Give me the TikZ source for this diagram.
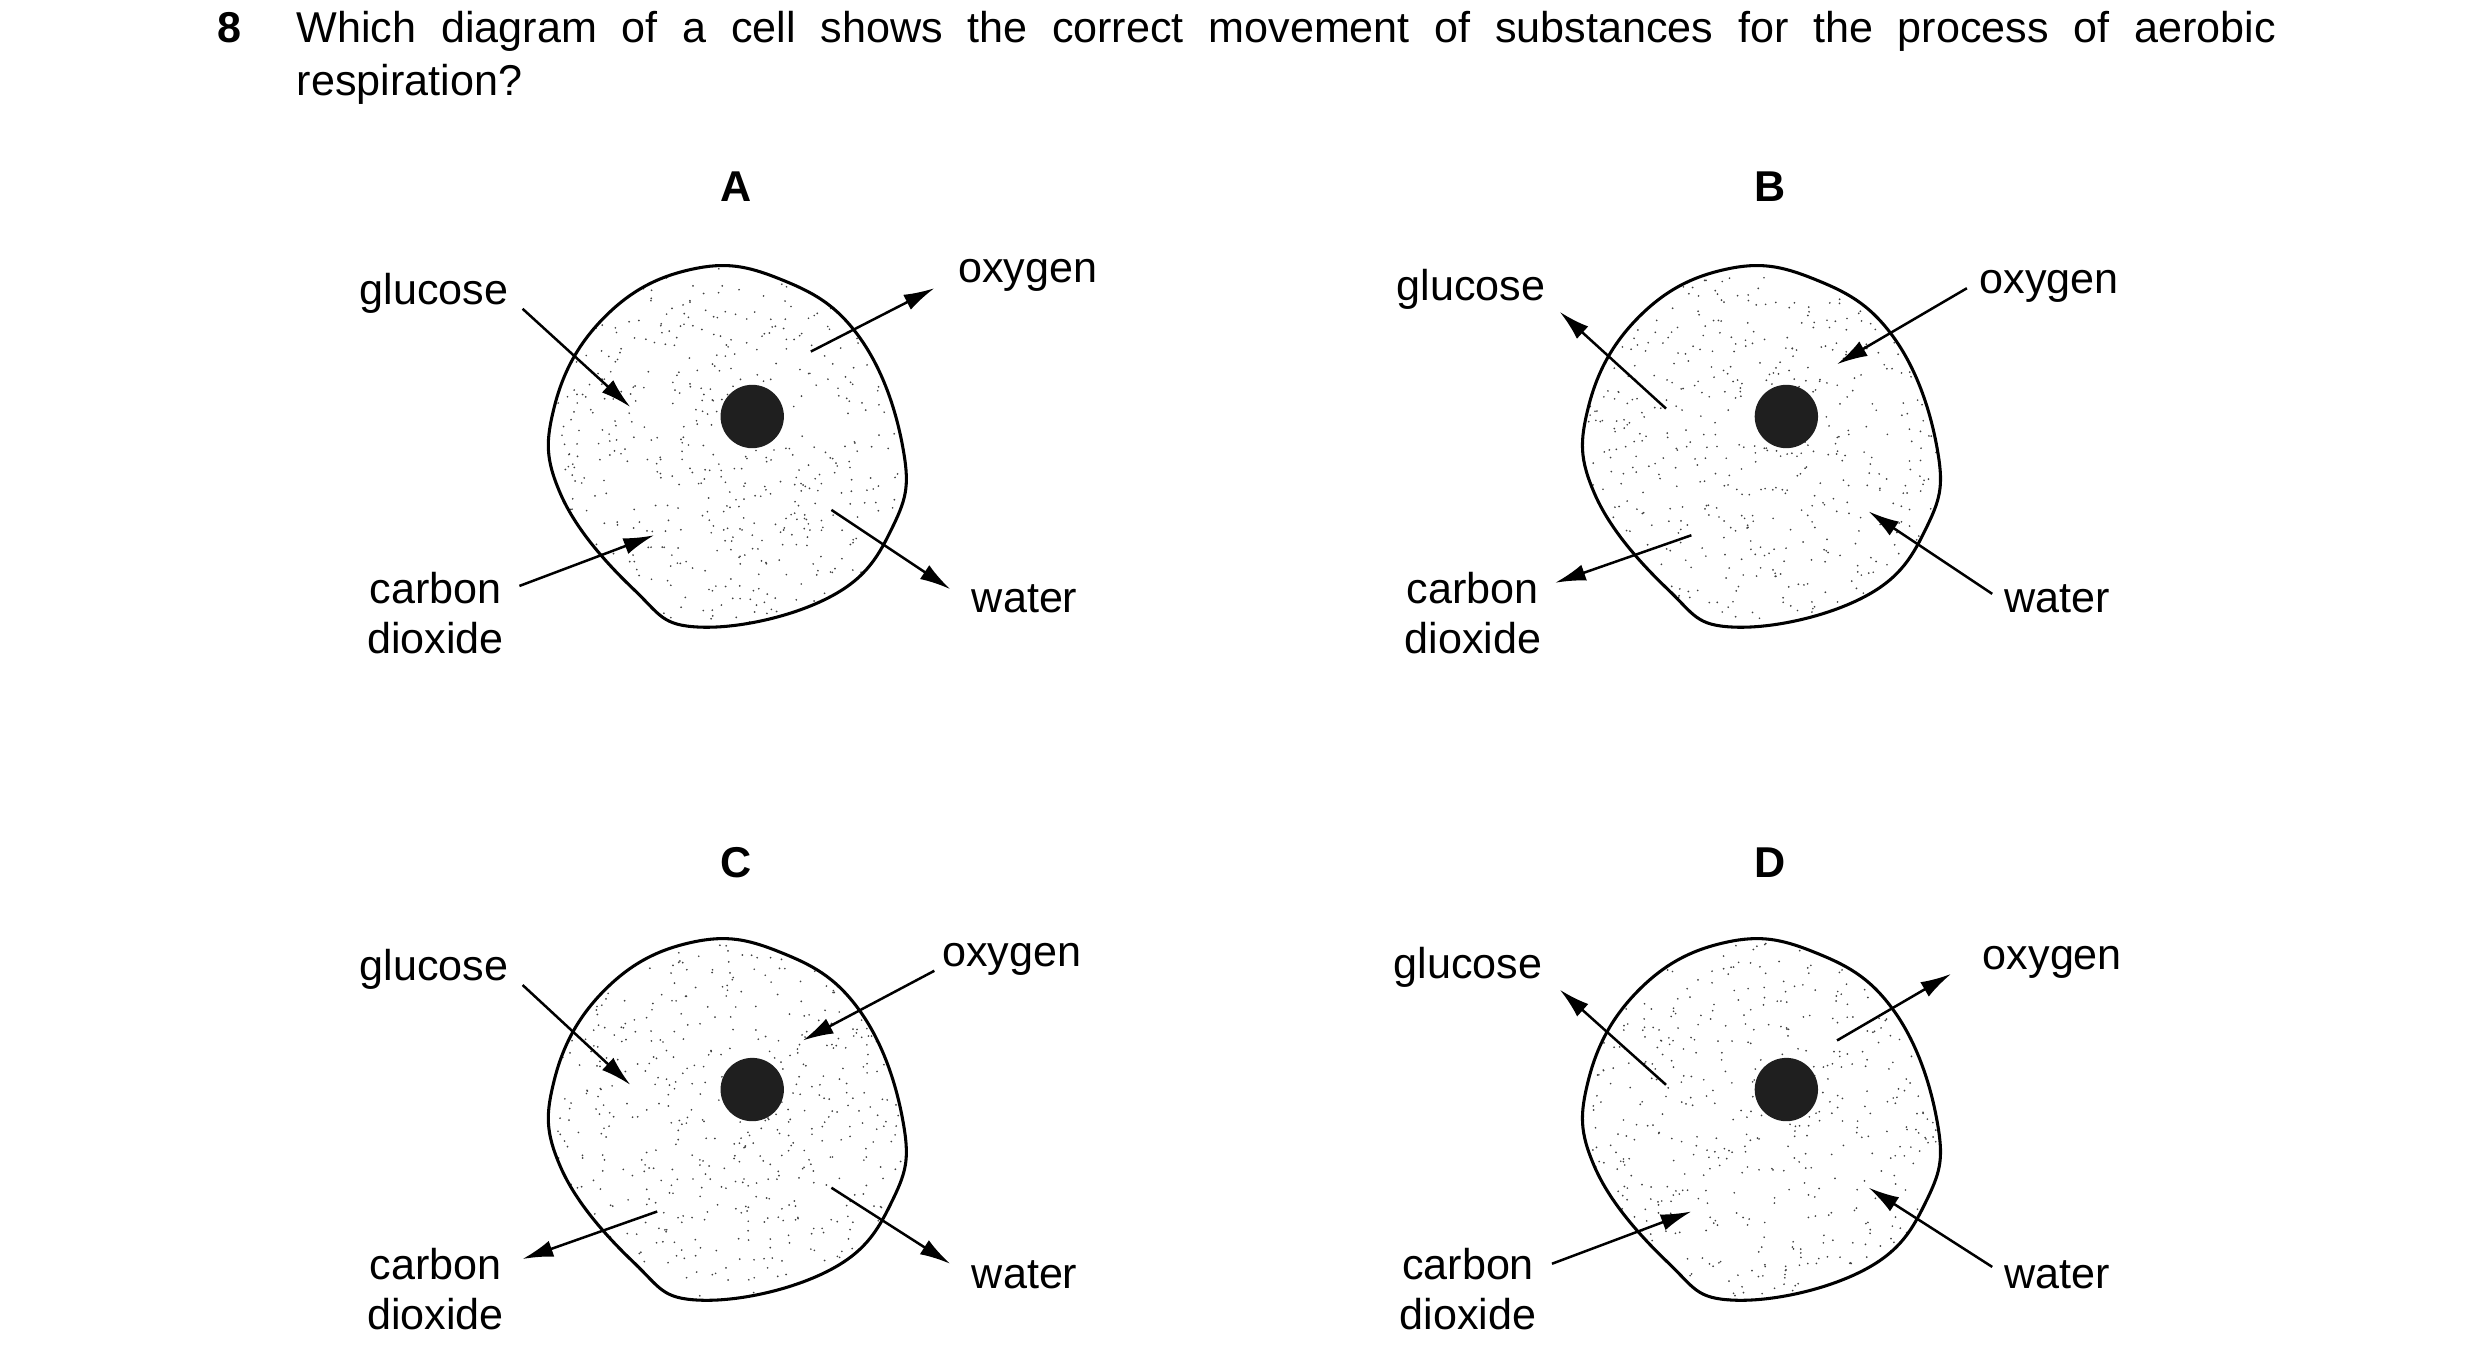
\documentclass[tikz,border=0pt]{standalone}
\usepackage{fontspec}
\setmainfont{Liberation Sans}
\usetikzlibrary{arrows.meta}

\newcommand{\cellbody}[3]{% #1 x, #2 y (centre), #3 name
  \begin{scope}[shift={(#1,#2)}]
    \path[name=#3] plot[smooth cycle, tension=0.7] coordinates {(-25,-112) (30,-106) (80,-70) (108,0) (102,50) (62,95) (-20,114) (-62,90) (-108,30) (-112,-25) (-80,-82)};
    \begin{scope}
      \clip plot[smooth cycle, tension=0.7] coordinates {(-25,-112) (30,-106) (80,-70) (108,0) (102,50) (62,95) (-20,114) (-62,90) (-108,30) (-112,-25) (-80,-82)};
      \foreach \i in {1,...,650} {
        \fill[black!75] (rand*112,rand*115) circle (0.6);
      }
    \end{scope}
    \draw[cellStyle] plot[smooth cycle, tension=0.7] coordinates {(-25,-112) (30,-106) (80,-70) (108,0) (102,50) (62,95) (-20,114) (-62,90) (-108,30) (-112,-25) (-80,-82)};
    \fill[black!88] (13,-19) circle (20);
  \end{scope}}

\begin{document}
\begin{tikzpicture}[x=0.02cm, y=-0.02cm, font=\fontsize{15.5}{18}\selectfont]
	\tikzstyle{cellStyle}=[line width = 1.1pt]
	\tikzstyle{arrowStyle}=[line width = 0.9pt, -{Latex[length=11pt, width=6pt]}]
	\tikzstyle{labelStyle}=[inner sep = 1pt]
	\tikzstyle{letterStyle}=[font = \fontsize{15.5}{18}\selectfont\bfseries]
	\useasboundingbox (0,0) rectangle (1566,864);
	\pgfmathsetseed{42}

	% question
	\node[letterStyle, anchor = base west] (num) at (131,27) {8};
	\node[anchor = base west, inner sep = 0] (q1) at (187,27) {\makebox[25cm][s]{Which diagram of a cell shows the correct movement of substances for the process of aerobic}};
	\node[anchor = base west, inner sep = 0] (q2) at (187,60) {respiration?};

	% cells
	\cellbody{462}{282}{cA}
	\cellbody{1115}{282}{cB}
	\cellbody{462}{707}{cC}
	\cellbody{1115}{707}{cD}

	\node[letterStyle] (lA) at (465,118) {A};
	\node[letterStyle] (lB) at (1118,118) {B};
	\node[letterStyle] (lC) at (465,545) {C};
	\node[letterStyle] (lD) at (1118,545) {D};

	% labels A
	\node[labelStyle] (gA) at (274,185) {glucose};
	\node[labelStyle] (oA) at (649,174) {oxygen};
	\node[labelStyle, align = center] (cdA) at (275,387) {carbon\\dioxide};
	\node[labelStyle] (wA) at (647,378) {water};
	\coordinate (gA1) at (330,195); \coordinate (gA2) at (398,257);
	\coordinate (oA1) at (512,222); \coordinate (oA2) at (590,182);
	\coordinate (cA1) at (328,370); \coordinate (cA2) at (413,338);
	\coordinate (wA1) at (525,322); \coordinate (wA2) at (600,372);
	\draw[arrowStyle] (gA1) -- (gA2);
	\draw[arrowStyle] (oA1) -- (oA2);
	\draw[arrowStyle] (cA1) -- (cA2);
	\draw[arrowStyle] (wA1) -- (wA2);

	% labels B
	\node[labelStyle] (gB) at (929,183) {glucose};
	\node[labelStyle] (oB) at (1294,181) {oxygen};
	\node[labelStyle, align = center] (cdB) at (930,387) {carbon\\dioxide};
	\node[labelStyle] (wB) at (1299,378) {water};
	\coordinate (gB1) at (1052,258); \coordinate (gB2) at (985,197);
	\coordinate (oB1) at (1242,182); \coordinate (oB2) at (1160,230);
	\coordinate (cB1) at (1068,338); \coordinate (cB2) at (982,368);
	\coordinate (wB1) at (1258,375); \coordinate (wB2) at (1180,323);
	\draw[arrowStyle] (gB1) -- (gB2);
	\draw[arrowStyle] (oB1) -- (oB2);
	\draw[arrowStyle] (cB1) -- (cB2);
	\draw[arrowStyle] (wB1) -- (wB2);

	% labels C
	\node[labelStyle] (gC) at (274,612) {glucose};
	\node[labelStyle] (oC) at (639,606) {oxygen};
	\node[labelStyle, align = center] (cdC) at (275,814) {carbon\\dioxide};
	\node[labelStyle] (wC) at (647,805) {water};
	\coordinate (gC1) at (330,622); \coordinate (gC2) at (398,685);
	\coordinate (oC1) at (590,613); \coordinate (oC2) at (507,657);
	\coordinate (cC1) at (415,765); \coordinate (cC2) at (330,795);
	\coordinate (wC1) at (525,750); \coordinate (wC2) at (600,798);
	\draw[arrowStyle] (gC1) -- (gC2);
	\draw[arrowStyle] (oC1) -- (oC2);
	\draw[arrowStyle] (cC1) -- (cC2);
	\draw[arrowStyle] (wC1) -- (wC2);

	% labels D
	\node[labelStyle] (gD) at (927,611) {glucose};
	\node[labelStyle] (oD) at (1296,608) {oxygen};
	\node[labelStyle, align = center] (cdD) at (927,814) {carbon\\dioxide};
	\node[labelStyle] (wD) at (1299,805) {water};
	\coordinate (gD1) at (1052,685); \coordinate (gD2) at (985,625);
	\coordinate (oD1) at (1160,657); \coordinate (oD2) at (1232,615);
	\coordinate (cD1) at (980,798); \coordinate (cD2) at (1068,765);
	\coordinate (wD1) at (1258,800); \coordinate (wD2) at (1180,750);
	\draw[arrowStyle] (gD1) -- (gD2);
	\draw[arrowStyle] (oD1) -- (oD2);
	\draw[arrowStyle] (cD1) -- (cD2);
	\draw[arrowStyle] (wD1) -- (wD2);
\end{tikzpicture}
\end{document}
